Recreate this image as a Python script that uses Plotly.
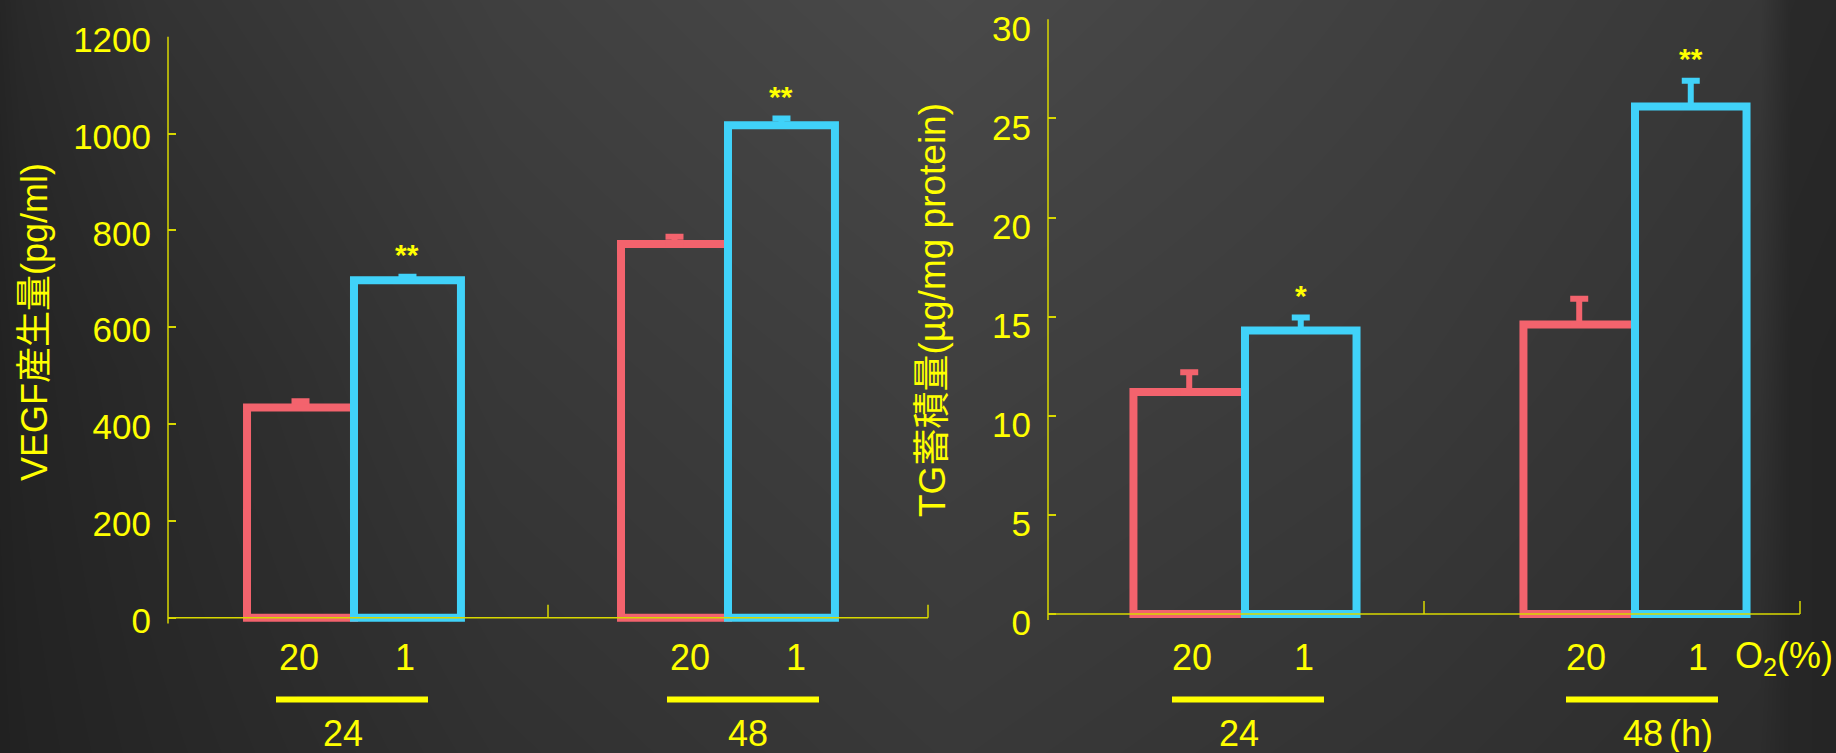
import plotly.graph_objects as go

# ---- data -------------------------------------------------------------
groups = ["24", "48"]            # culture time (h)
o2_levels = ["20", "1"]          # O2 (%)

vegf_20 = [434, 772]
vegf_20_err = [13, 15]
vegf_1 = [697, 1017]
vegf_1_err = [7, 14]
vegf_sig = ["**", "**"]

tg_20 = [11.2, 14.6]
tg_20_err = [1.0, 1.3]
tg_1 = [14.3, 25.6]
tg_1_err = [0.66, 1.3]
tg_sig = ["*", "**"]

vegf_ticks = [0, 200, 400, 600, 800, 1000, 1200]
tg_ticks = [0, 5, 10, 15, 20, 25, 30]

# ---- style ------------------------------------------------------------
W, H = 1836, 753
RED = "#F3636D"
BLUE = "#40D2F9"
YELLOW = "#FFFF00"
AXIS_YELLOW = "#D8D800"
FONT = "Liberation Sans, Arial, Noto Sans CJK JP, sans-serif"
BAR_W = 0.286

fig = go.Figure()

# background: dark vignette drawn as a smooth grey heatmap on its own axes
bg_x = [-40, 20, 150, 500, 950, 1400, 1760, 1790, 1876]
bg_y = [-40, 370, 793]
bg_z = [
    [30, 42, 52, 64, 74, 64, 56, 42, 40],
    [30, 36, 42, 56, 64, 58, 50, 38, 36],
    [30, 34, 38, 48, 56, 50, 44, 38, 36],
]
fig.add_trace(go.Heatmap(
    x=bg_x, y=bg_y, z=bg_z, zsmooth="best", zmin=0, zmax=255,
    colorscale=[[0, "rgb(0,0,0)"], [1, "rgb(255,255,255)"]],
    showscale=False, hoverinfo="skip", xaxis="x", yaxis="y",
))


def add_panel(fig, xa, ya, v20, e20, v1, e1, sig, row_dx, time_dx):
    """Draw one bar panel; row_dx/time_dx nudge the under-axis labels (px)."""
    idx = list(range(len(groups)))
    zeros = [0] * len(idx)
    fig.add_trace(go.Bar(
        x=idx, y=v20, width=BAR_W, offset=-BAR_W,
        marker=dict(color="rgba(0,0,0,0)", line=dict(color=RED, width=8)),
        error_y=dict(type="data", array=e20, arrayminus=zeros, symmetric=False,
                     color=RED, thickness=6, width=9),
        xaxis=xa, yaxis=ya, showlegend=False,
    ))
    fig.add_trace(go.Bar(
        x=idx, y=v1, width=BAR_W, offset=0,
        marker=dict(color="rgba(0,0,0,0)", line=dict(color=BLUE, width=8)),
        error_y=dict(type="data", array=e1, arrayminus=zeros, symmetric=False,
                     color=BLUE, thickness=6, width=9),
        xaxis=xa, yaxis=ya, showlegend=False,
    ))
    for i in idx:
        # significance marks above the 1% O2 bars
        fig.add_annotation(
            x=i + BAR_W / 2, y=v1[i] + e1[i], xref=xa, yref=ya,
            text=sig[i], showarrow=False, yanchor="middle", yshift=22,
            font=dict(family=FONT, size=30, color=YELLOW, weight="bold"),
        )
        # O2 level labels under each bar
        for k, off in enumerate((-BAR_W / 2, BAR_W / 2)):
            fig.add_annotation(
                x=i + off, y=0.1262, xref=xa, yref="paper",
                text=o2_levels[k], showarrow=False, yanchor="middle",
                xshift=row_dx[i],
                font=dict(family=FONT, size=36, color=YELLOW),
            )
        # time bracket line and label
        fig.add_shape(
            type="line", xref=xa, yref="paper", xsizemode="pixel", xanchor=i,
            x0=-76 + row_dx[i], x1=76 + row_dx[i], y0=0.0711, y1=0.0711,
            line=dict(color=YELLOW, width=6),
        )
        fig.add_annotation(
            x=i, y=0, xref=xa, yref="paper", text=groups[i],
            showarrow=False, yanchor="bottom", height=38, valign="middle",
            xshift=time_dx[i], yshift=-1,
            font=dict(family=FONT, size=36, color=YELLOW),
        )
    # axis lines and upward x ticks at the group boundaries
    fig.add_shape(type="line", xref=xa + " domain", yref=ya,
                  x0=0, x1=1, y0=0, y1=0,
                  line=dict(color=AXIS_YELLOW, width=1.5))
    fig.add_shape(type="line", xref=xa + " domain", yref=ya + " domain",
                  x0=0, x1=0, y0=0, y1=1,
                  line=dict(color=AXIS_YELLOW, width=1.5))
    for xd in (0.5, 1.0):
        fig.add_shape(type="line", xref=xa + " domain", yref=ya,
                      ysizemode="pixel", yanchor=0, x0=xd, x1=xd, y0=0, y1=13,
                      line=dict(color=AXIS_YELLOW, width=1.5))


add_panel(fig, "x2", "y2", vegf_20, vegf_20_err, vegf_1, vegf_1_err, vegf_sig,
          row_dx=[-2, 15], time_dx=[-11, 20])
add_panel(fig, "x3", "y3", tg_20, tg_20_err, tg_1, tg_1_err, tg_sig,
          row_dx=[3, 7], time_dx=[-6, 8])

# axis titles
fig.add_annotation(
    x=34 / W, y=1 - 322 / H, xref="paper", yref="paper",
    text="VEGF産生量(pg/ml)", textangle=-90, showarrow=False,
    xanchor="center", yanchor="middle",
    font=dict(family=FONT, size=36, color=YELLOW),
)
fig.add_annotation(
    x=932 / W, y=1 - 310 / H, xref="paper", yref="paper",
    text="TG蓄積量(µg/mg protein)", textangle=-90, showarrow=False,
    xanchor="center", yanchor="middle",
    font=dict(family=FONT, size=37, color=YELLOW),
)
fig.add_annotation(
    x=1733 / W, y=0.1262, xref="paper", yref="paper",
    text="O<sub>2</sub>(%)", showarrow=False, xanchor="left", yanchor="middle",
    font=dict(family=FONT, size=36, color=YELLOW),
)
fig.add_annotation(
    x=1, y=0, xref="x3", yref="paper", text="(h)", showarrow=False,
    xanchor="left", yanchor="bottom", height=38, valign="middle",
    xshift=32, yshift=-1,
    font=dict(family=FONT, size=36, color=YELLOW),
)

hidden = dict(visible=False, showgrid=False, zeroline=False, automargin=False)
yax = dict(
    showgrid=False, zeroline=False, showline=False, automargin=False,
    ticks="inside", ticklen=8, tickwidth=1.5, tickcolor=AXIS_YELLOW,
    ticklabelstandoff=16, ticklabeloverflow="allow",
    tickfont=dict(family=FONT, size=35, color=YELLOW),
)
xax = dict(showgrid=False, zeroline=False, showline=False, automargin=False,
           showticklabels=False, ticks="")

fig.update_layout(
    width=W, height=H,
    margin=dict(l=0, r=0, t=0, b=0, pad=0, autoexpand=False),
    paper_bgcolor="#2a2a2a", plot_bgcolor="rgba(0,0,0,0)",
    barmode="overlay", showlegend=False,
    xaxis=dict(domain=[0, 1], range=[0, W], **hidden),
    yaxis=dict(domain=[0, 1], range=[H, 0], **hidden),
    xaxis2=dict(domain=[168 / W, 928 / W], range=[-0.4973, 1.5348],
                anchor="y2", **xax),
    yaxis2=dict(domain=[1 - 623.5 / H, 1 - 36.7 / H], range=[-12, 1200],
                anchor="x2", tickvals=vegf_ticks, ticklabelshift=3, **yax),
    xaxis3=dict(domain=[1048 / W, 1800 / W], range=[-0.5051, 1.4231],
                anchor="y3", **xax),
    yaxis3=dict(domain=[1 - 619.9 / H, 1 - 19.3 / H], range=[-0.3, 30],
                anchor="x3", tickvals=tg_ticks, ticklabelshift=9, **yax),
)

fig.write_html("out.html")
